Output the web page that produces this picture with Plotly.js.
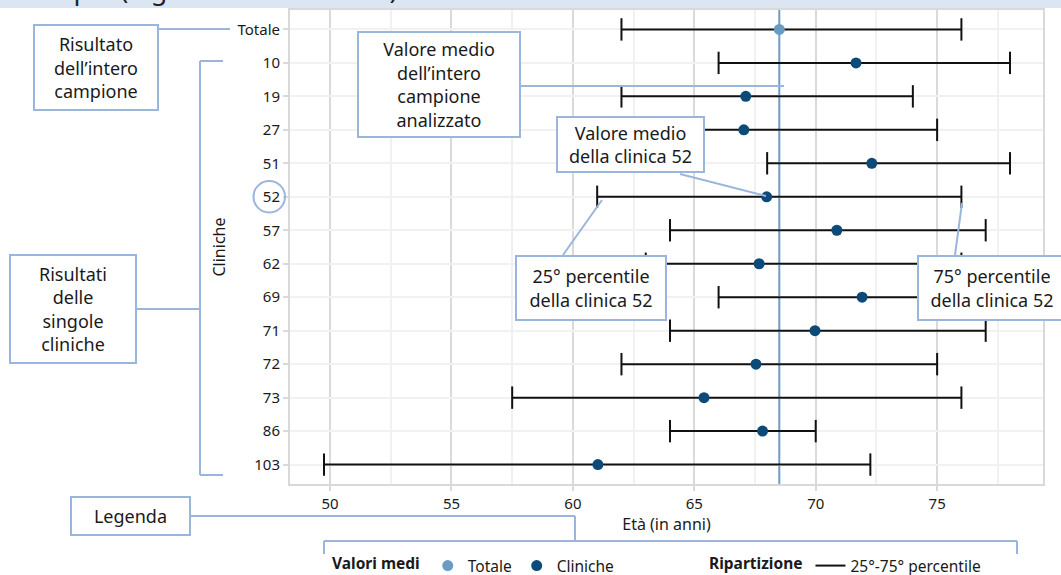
<!DOCTYPE html>
<html>
<head>
<meta charset="utf-8">
<script src="https://cdn.plot.ly/plotly-3.0.1.min.js"></script>
<style>html,body{margin:0;padding:0;background:#fff;}#chart{width:1061px;height:575px;}</style>
</head>
<body>
<div id="chart"></div>
<script>
// ---- data ----
const categories = ['Totale', '10', '19', '27', '51', '52', '57', '62', '69', '71', '72', '73', '86', '103'];
const meanValues = [68.5, 71.66, 67.12, 67.04, 72.31, 67.98, 70.87, 67.67, 71.91, 69.97, 67.54, 65.40, 67.81, 61.03];
const p25Values  = [62.0, 66.0, 62.0, 63.0, 68.0, 61.0, 64.0, 63.0, 66.0, 64.0, 62.0, 57.5, 64.0, 49.75];
const p75Values  = [76.0, 78.0, 74.0, 75.0, 78.0, 76.0, 77.0, 76.0, 76.0, 77.0, 75.0, 76.0, 70.0, 72.25];
const xTickVals  = [50, 55, 60, 65, 70, 75];
const titleText = 'Esempio (legenda del risultato)';
const boxTexts = {
  totale: 'Risultato<br>dell’intero<br>campione',
  media: 'Valore medio<br>dell’intero<br>campione<br>analizzato',
  media52: 'Valore medio<br>della clinica 52',
  p25: '25° percentile<br>della clinica 52',
  p75: '75° percentile<br>della clinica 52',
  cliniche: 'Risultati<br>delle<br>singole<br>cliniche',
  legenda: 'Legenda'
};

// ---- layout geometry ----
const W = 1061, H = 575;
const M = {l: 290, r: 18, t: 10, b: 91, autoexpand: false};
const PW = W - M.l - M.r, PH = H - M.t - M.b;
const px = x => (x - M.l) / PW;
const py = y => (M.t + PH - y) / PH;

const FONT = '"Noto Sans", "Open Sans", sans-serif';
const BOX = '#9ab6dc';
const DOT_TOT = '#6a9bc3';
const DOT_CLIN = '#0b4a79';
const INK = '#1a1a1a';

// whiskers
const wx = [], wy = [];
categories.forEach((c, i) => { wx.push(p25Values[i], p75Values[i], null); wy.push(c, c, null); });
const capX = p25Values.concat(p75Values);
const capY = categories.concat(categories);

const traces = [
  {type: 'scatter', mode: 'lines', x: wx, y: wy, line: {color: '#111', width: 2},
   name: '25°-75° percentile', legend: 'legend2', showlegend: true, hoverinfo: 'skip'},
  {type: 'scatter', mode: 'markers', x: capX, y: capY, showlegend: false, hoverinfo: 'skip',
   marker: {symbol: 'line-ns-open', size: 16, color: '#111', line: {color: '#111', width: 2}}},
  {type: 'scatter', mode: 'markers', x: [meanValues[0]], y: [categories[0]], name: 'Totale', legend: 'legend',
   marker: {color: DOT_TOT, size: 11}},
  {type: 'scatter', mode: 'markers', x: meanValues.slice(1), y: categories.slice(1), name: 'Cliniche', legend: 'legend',
   marker: {color: DOT_CLIN, size: 11}}
];

function box(cx, cy, w, h, text) {
  return {xref: 'paper', yref: 'paper', x: px(cx), y: py(cy), xanchor: 'center', yanchor: 'middle',
    text: text, showarrow: false, bgcolor: '#ffffff', bordercolor: BOX, borderwidth: 2, borderpad: 0,
    width: w - 4, height: h - 4, align: 'center', font: {family: FONT, size: 18, color: INK}};
}
function seg(x0, y0, x1, y1) {
  return {type: 'line', xref: 'paper', yref: 'paper', x0: px(x0), y0: py(y0), x1: px(x1), y1: py(y1),
    line: {color: BOX, width: 2}, layer: 'above'};
}

const shapes = [
  {type: 'rect', xref: 'paper', yref: 'paper', x0: px(0), x1: px(W), y0: py(0), y1: py(8),
   fillcolor: '#dce6f2', line: {width: 0}, layer: 'above'},
  {type: 'line', xref: 'x', yref: 'paper', x0: meanValues[0], x1: meanValues[0], y0: 0, y1: 1,
   line: {color: '#6f9cc4', width: 2}, layer: 'between'},
  seg(159, 29, 230, 29),
  seg(521, 86, 784, 86),
  seg(680, 174, 766, 196),
  seg(563, 255, 602, 200),
  seg(955, 255, 962, 203),
  seg(200, 61, 223, 61), seg(200, 61, 200, 475), seg(200, 475, 223, 475), seg(137, 309, 200, 309),
  seg(191, 516, 575, 516), seg(575, 516, 575, 541), seg(324, 541, 1017, 541),
  seg(324, 541, 324, 554), seg(1017, 541, 1017, 554),
  {type: 'circle', xref: 'paper', yref: 'paper', x0: px(253.5), x1: px(285), y0: py(181), y1: py(212.5),
   line: {color: BOX, width: 2}, layer: 'above'}
];

const annotations = [
  {xref: 'paper', yref: 'paper', x: px(4), y: py(8), xanchor: 'left', yanchor: 'bottom', showarrow: false,
   text: titleText, borderpad: 0, font: {family: FONT, size: 27, color: '#222'}},
  box(96, 67.5, 126, 87, boxTexts.totale),
  box(439, 84.5, 164, 107, boxTexts.media),
  box(630.5, 144.5, 149, 57, boxTexts.media52),
  box(591, 288, 152, 66, boxTexts.p25),
  box(992, 288, 150, 66, boxTexts.p75),
  box(73, 309, 128, 110, boxTexts.cliniche),
  box(130.5, 516, 121, 40, boxTexts.legenda)
];

const layout = {
  width: W, height: H, margin: M, paper_bgcolor: '#fff', plot_bgcolor: '#fff',
  font: {family: FONT, size: 15, color: INK},
  xaxis: {range: [48.35, 79.36], tickvals: xTickVals, ticks: 'outside', ticklen: 5, tickcolor: '#d9d9d9', tickwidth: 2,
          showgrid: true, gridcolor: '#dadada', gridwidth: 2, zeroline: false, automargin: false,
          minor: {dtick: 2.5, tick0: 50, showgrid: true, gridcolor: '#f1f1f1', gridwidth: 2, ticks: ''},
          showline: true, mirror: true, linecolor: '#d9d9d9', linewidth: 2,
          tickfont: {size: 15, color: INK},
          title: {text: 'Età (in anni)', standoff: 4, font: {size: 16, color: INK}}},
  yaxis: {type: 'category', categoryorder: 'array', categoryarray: categories, range: [13.58, -0.58],
          ticks: 'outside', ticklen: 5, tickcolor: '#d9d9d9', tickwidth: 2, automargin: false,
          showgrid: true, gridcolor: '#f1f1f1', gridwidth: 2, zeroline: false,
          showline: true, mirror: true, linecolor: '#d9d9d9', linewidth: 2,
          tickfont: {size: 15, color: INK},
          title: {text: 'Cliniche', standoff: 8, font: {size: 16, color: INK}}},
  legend: {orientation: 'h', x: px(330), xanchor: 'left', y: py(549), yanchor: 'top',
           title: {text: '<b>Valori medi</b>', side: 'left', font: {size: 15.5}}, font: {size: 15.5},
           bgcolor: 'rgba(0,0,0,0)', traceorder: 'normal'},
  legend2: {orientation: 'h', x: px(707), xanchor: 'left', y: py(549), yanchor: 'top',
           title: {text: '<b>Ripartizione</b>', side: 'left', font: {size: 15.5}}, font: {size: 15.5},
           bgcolor: 'rgba(0,0,0,0)'},
  shapes: shapes,
  annotations: annotations,
  showlegend: true
};

Plotly.newPlot('chart', traces, layout, {staticPlot: true, displayModeBar: false});
</script>
</body>
</html>
